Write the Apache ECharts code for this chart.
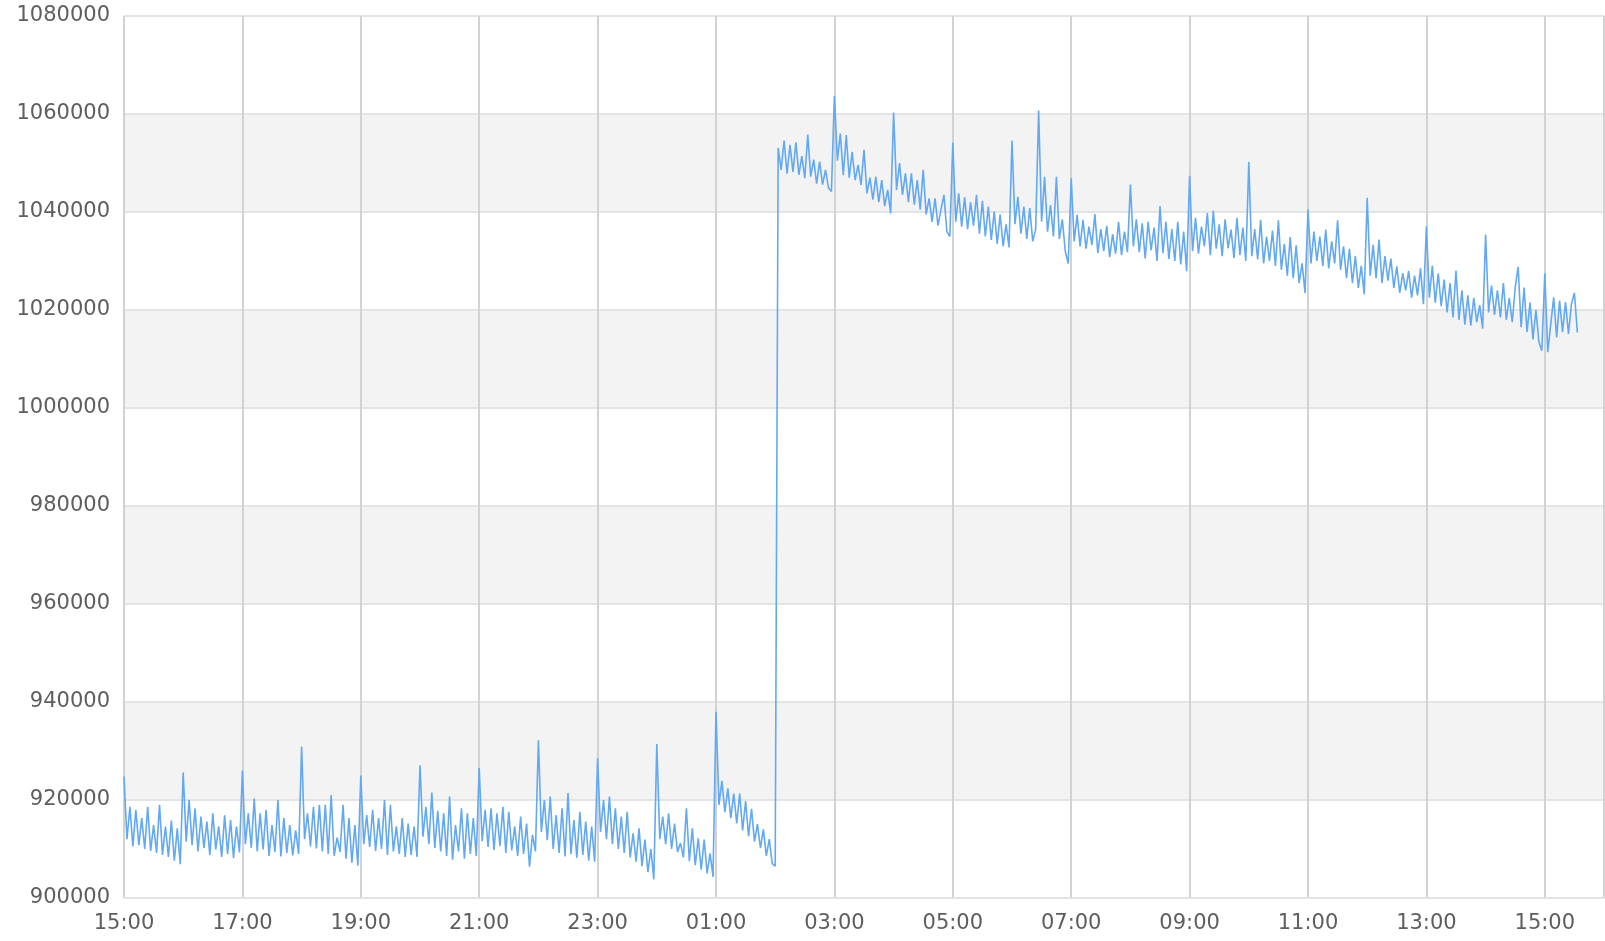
<!DOCTYPE html>
<html>
<head>
<meta charset="utf-8">
<script src="https://cdn.jsdelivr.net/npm/echarts@6/dist/echarts.min.js"></script>
<style>
html,body{margin:0;padding:0;background:#fff;}
#chart{width:1605px;height:941px;}
</style>
</head>
<body>
<div id="chart"></div>
<script>
// Values in thousands, one sample every 3 minutes, one array per hour (start at hh:00)
const stepMinutes = 3;
const startHour = 15;
const yTicks = [900000, 920000, 940000, 960000, 980000, 1000000, 1020000, 1040000, 1060000, 1080000];

const v1500 = [924.8, 912.0, 918.6, 910.5, 918.0, 910.8, 916.3, 910.0, 918.6, 909.6, 914.9, 909.2, 919.0, 908.8, 914.6, 908.4, 915.8, 907.6, 914.2, 906.9];
const v1600 = [925.6, 911.5, 920.0, 910.8, 918.3, 909.5, 916.6, 910.2, 915.6, 908.8, 917.3, 909.9, 914.6, 908.4, 916.9, 909.0, 915.9, 908.2, 914.6, 909.3];
const v1700 = [926.0, 911.0, 917.3, 910.2, 920.3, 909.5, 917.3, 909.9, 918.0, 908.6, 914.9, 909.4, 920.0, 908.5, 916.3, 909.2, 914.9, 908.7, 913.8, 909.0];
const v1800 = [930.9, 912.0, 917.3, 910.5, 918.6, 910.1, 919.0, 909.5, 919.0, 909.0, 921.0, 908.6, 912.3, 909.4, 919.0, 908.0, 916.3, 907.2, 914.9, 906.6];
const v1900 = [925.0, 911.0, 916.9, 910.4, 918.0, 909.6, 916.3, 910.0, 920.0, 908.8, 919.0, 909.5, 914.6, 909.0, 916.3, 908.4, 915.2, 908.8, 914.6, 908.4];
const v2000 = [927.1, 912.5, 918.6, 911.0, 921.5, 910.2, 917.8, 909.5, 917.3, 908.6, 920.7, 907.8, 914.9, 909.5, 918.3, 908.0, 917.3, 909.0, 916.3, 908.6];
const v2100 = [926.5, 911.6, 918.0, 910.4, 918.3, 909.8, 917.3, 910.6, 918.6, 909.2, 917.6, 909.7, 914.6, 908.6, 916.6, 909.0, 915.2, 906.4, 912.9, 909.5];
const v2200 = [932.2, 913.5, 920.0, 911.8, 920.7, 910.0, 916.9, 909.2, 918.3, 908.5, 921.4, 909.0, 915.9, 908.2, 917.6, 908.8, 915.6, 907.6, 914.6, 907.4];
const v2300 = [928.5, 913.5, 920.0, 912.0, 920.7, 911.0, 918.3, 910.0, 916.6, 909.2, 917.6, 908.3, 913.2, 907.4, 914.2, 906.5, 911.9, 905.3, 910.0, 903.8];
const v0000 = [931.4, 912.0, 916.6, 911.0, 917.3, 910.0, 915.2, 909.4, 911.2, 908.3, 918.3, 907.5, 914.2, 906.7, 912.2, 905.8, 911.9, 905.0, 909.1, 904.3];
const v0100 = [938.0, 919.0, 923.9, 917.5, 922.4, 916.3, 921.3, 915.2, 921.3, 913.8, 919.8, 912.6, 918.2, 911.5, 915.1, 910.2, 914.0, 908.6, 912.0, 907.0];
const v0200 = [906.5, 1053.1, 1048.6, 1054.6, 1047.8, 1053.7, 1048.2, 1054.2, 1047.6, 1051.4, 1046.9, 1055.8, 1047.2, 1050.7, 1045.8, 1050.3, 1045.6, 1048.6, 1044.9, 1044.2];
const v0300 = [1063.7, 1050.5, 1056.0, 1047.5, 1055.7, 1047.0, 1052.3, 1046.5, 1049.6, 1045.5, 1052.7, 1043.8, 1047.0, 1042.5, 1047.2, 1042.0, 1046.5, 1041.2, 1044.5, 1039.7];
const v0400 = [1060.3, 1044.5, 1050.0, 1043.5, 1047.9, 1042.0, 1047.9, 1041.5, 1046.5, 1040.5, 1048.6, 1039.5, 1042.8, 1038.0, 1042.8, 1037.2, 1040.5, 1043.5, 1036.0, 1035.0];
const v0500 = [1054.2, 1038.0, 1043.8, 1037.0, 1043.0, 1036.5, 1042.0, 1037.2, 1043.5, 1035.6, 1042.3, 1035.0, 1041.1, 1034.3, 1040.1, 1033.5, 1039.5, 1033.0, 1037.5, 1032.8];
const v0600 = [1054.6, 1037.5, 1043.1, 1035.6, 1041.1, 1034.5, 1040.8, 1034.0, 1036.5, 1060.7, 1038.0, 1047.2, 1036.0, 1041.4, 1035.0, 1047.2, 1034.5, 1038.5, 1032.0, 1029.5];
const v0700 = [1046.9, 1034.0, 1039.4, 1033.0, 1038.4, 1032.5, 1037.0, 1033.3, 1039.6, 1031.6, 1036.5, 1032.0, 1037.2, 1030.8, 1035.5, 1031.5, 1038.0, 1031.2, 1036.0, 1031.8];
const v0800 = [1045.6, 1033.0, 1038.5, 1031.8, 1037.7, 1030.5, 1038.0, 1032.2, 1036.8, 1030.0, 1041.2, 1031.6, 1038.0, 1030.4, 1036.5, 1030.0, 1038.0, 1029.3, 1036.0, 1027.9];
const v0900 = [1047.4, 1032.0, 1038.8, 1031.5, 1037.0, 1033.0, 1039.8, 1031.2, 1040.3, 1032.5, 1037.5, 1031.0, 1038.5, 1032.6, 1036.4, 1030.6, 1038.8, 1031.2, 1036.8, 1030.0];
const v1000 = [1050.2, 1031.0, 1036.5, 1030.3, 1038.4, 1029.5, 1035.0, 1030.0, 1036.2, 1029.0, 1038.3, 1028.2, 1033.5, 1027.0, 1034.9, 1026.5, 1033.2, 1025.5, 1029.5, 1023.5];
const v1100 = [1040.5, 1029.5, 1036.0, 1030.0, 1035.0, 1029.0, 1036.4, 1028.5, 1034.0, 1029.5, 1038.3, 1028.2, 1033.0, 1026.5, 1032.5, 1025.5, 1031.0, 1024.5, 1029.0, 1023.2];
const v1200 = [1042.9, 1027.0, 1033.3, 1026.5, 1034.4, 1025.5, 1031.0, 1026.0, 1030.5, 1024.5, 1028.9, 1023.5, 1027.5, 1024.0, 1028.0, 1022.5, 1027.0, 1023.0, 1028.5, 1021.2];
const v1300 = [1037.1, 1022.5, 1029.0, 1021.5, 1027.5, 1020.8, 1026.2, 1019.5, 1025.5, 1018.5, 1028.0, 1018.0, 1024.0, 1017.0, 1023.0, 1016.8, 1022.5, 1017.5, 1021.0, 1016.2];
const v1400 = [1035.4, 1019.5, 1025.0, 1019.0, 1024.0, 1018.5, 1025.5, 1018.0, 1022.5, 1017.5, 1024.6, 1028.8, 1016.5, 1024.6, 1015.5, 1021.5, 1014.0, 1020.0, 1013.5, 1011.7];
const v1500b = [1027.5, 1011.4, 1017.0, 1022.6, 1014.4, 1021.9, 1015.5, 1021.6, 1015.1, 1021.2, 1023.5, 1015.4];

const hourBlocks = [v1500, v1600, v1700, v1800, v1900, v2000, v2100, v2200, v2300, v0000, v0100, v0200,
  v0300, v0400, v0500, v0600, v0700, v0800, v0900, v1000, v1100, v1200, v1300, v1400, v1500b];

const seriesData = [];
hourBlocks.forEach(function (block, h) {
  block.forEach(function (v, j) {
    seriesData.push([h * 60 + j * stepMinutes, Math.round(v * 1000)]);
  });
});

function fmtTime(m) {
  if (m % 120 !== 0) return '';
  const total = (startHour * 60 + m) % 1440;
  const hh = Math.floor(total / 60), mm = total % 60;
  return (hh < 10 ? '0' : '') + hh + ':' + (mm < 10 ? '0' : '') + mm;
}

const chart = echarts.init(document.getElementById('chart'), null, {renderer: 'canvas'});
chart.setOption({
  animation: false,
  backgroundColor: '#ffffff',
  grid: {left: 124, right: 1, top: 16, bottom: 43, containLabel: false},
  xAxis: {
    type: 'value',
    min: 0,
    max: 1500,
    interval: 120,
    axisLine: {show: true, lineStyle: {color: '#e2e2e2', width: 2}},
    axisTick: {show: false},
    axisLabel: {
      formatter: fmtTime,
      fontFamily: 'DejaVu Sans',
      fontSize: 21,
      color: '#5e5e5e',
      margin: 15,
      showMaxLabel: false
    },
    splitLine: {show: true, lineStyle: {color: '#d2d2d2', width: 2}}
  },
  yAxis: {
    type: 'value',
    min: yTicks[0],
    max: yTicks[yTicks.length - 1],
    interval: 20000,
    axisLine: {show: false},
    axisTick: {show: false},
    axisLabel: {
      formatter: function (v) { return String(v); },
      fontFamily: 'DejaVu Sans',
      fontSize: 21,
      color: '#5e5e5e',
      margin: 14
    },
    splitLine: {show: true, lineStyle: {color: '#e4e4e4', width: 2}},
    splitArea: {show: true, areaStyle: {color: ['#ffffff', '#f3f3f3']}}
  },
  series: [{
    type: 'line',
    data: seriesData,
    showSymbol: false,
    symbol: 'none',
    sampling: null,
    lineStyle: {color: '#62a8f2', width: 1.6},
    itemStyle: {color: '#62a8f2'}
  }]
});
</script>
</body>
</html>
